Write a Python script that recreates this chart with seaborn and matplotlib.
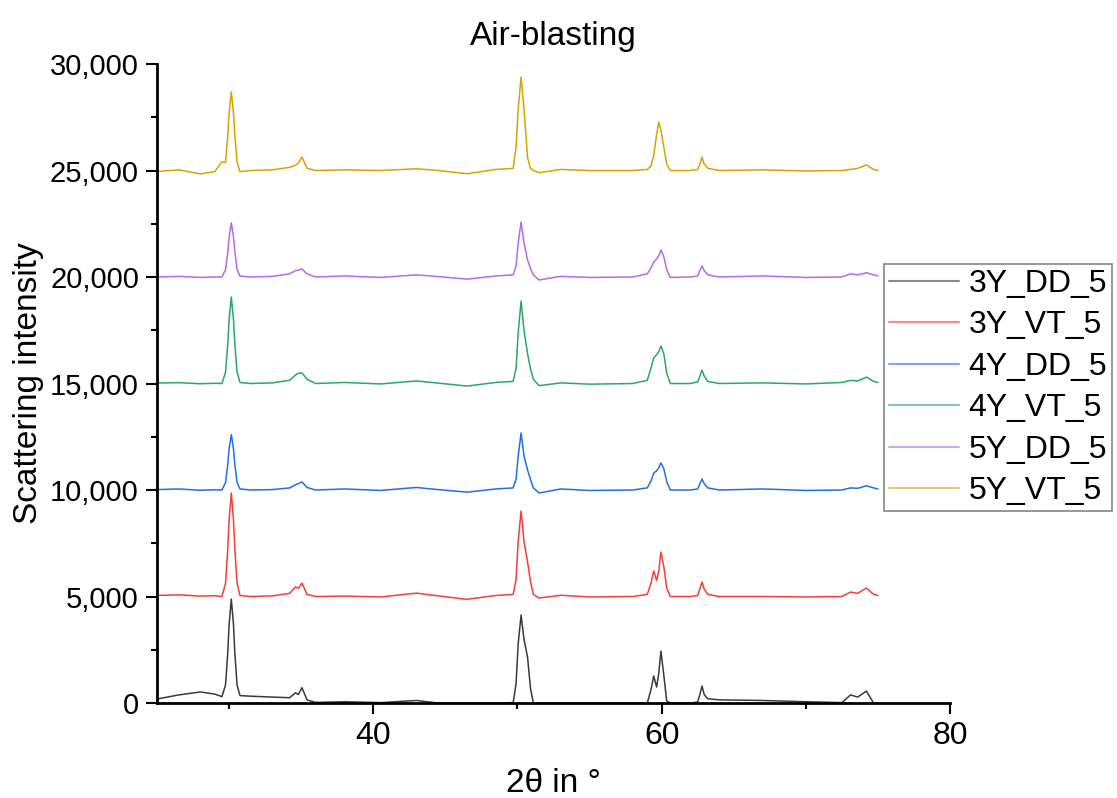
import matplotlib
matplotlib.use('Agg')
import matplotlib.pyplot as plt
import matplotlib.ticker as mticker
import seaborn as sns
import pandas as pd

# 2theta positions (deg) of the points
two_theta = [25.0, 26.5, 28.0, 29.0, 29.5, 29.75, 29.9, 30.0, 30.15, 30.3,
             30.4, 30.55, 30.75, 31.5, 33.0, 34.2, 34.6, 34.8, 35.05, 35.4,
             36.0, 38.0, 40.5, 43.0, 44.5, 46.5, 48.5, 49.7, 49.9, 50.05,
             50.25, 50.45, 50.7, 50.9, 51.1, 51.5, 53.0, 55.0, 58.0, 59.0,
             59.25, 59.45, 59.65, 59.8, 59.95, 60.15, 60.35, 60.6, 62.0, 62.5,
             62.65, 62.8, 62.95, 63.2, 64.0, 67.0, 70.0, 72.5, 73.1, 73.6,
             74.2, 74.7, 75.0]

# stacked intensities (already shifted by 5000 per sample)
y_3y_dd = [190, 380, 520, 420, 300, 850, 2300, 3700, 4880, 3700,
           2300, 850, 350, 320, 280, 250, 480, 400, 720, 150,
           30, 60, 20, 120, 0, 0, 0, 20, 900, 2800,
           4130, 3000, 2150, 700, 0, 0, 0, 0, 0, 0,
           600, 1270, 750, 1400, 2440, 1300, 100, 0, 0, 50,
           400, 800, 400, 200, 150, 120, 60, 20, 380, 280,
           560, 0, 0]
y_3y_vt = [5050, 5080, 5020, 5040, 5000, 5630, 7170, 8610, 9860, 8610,
           7170, 5630, 5050, 5000, 5030, 5150, 5450, 5380, 5630, 5100,
           5000, 5020, 4980, 5160, 5030, 4870, 5050, 5100, 5800, 7600,
           9010, 7600, 6620, 5700, 5100, 4930, 5060, 4980, 5000, 5100,
           5600, 6200, 5750, 6200, 7090, 6400, 5400, 5000, 5000, 5050,
           5350, 5680, 5350, 5100, 5000, 5000, 4980, 5000, 5210, 5150,
           5400, 5100, 5050]
y_4y_dd = [10020, 10050, 9990, 10010, 10000, 10350, 11170, 11940, 12600, 11940,
           11170, 10350, 10050, 10000, 10020, 10100, 10250, 10300, 10380, 10120,
           10000, 10050, 9980, 10120, 10020, 9900, 10050, 10100, 10500, 11600,
           12680, 11600, 10940, 10500, 10100, 9860, 10050, 9980, 10000, 10100,
           10400, 10800, 10900, 11050, 11270, 11000, 10400, 10000, 10000, 10050,
           10300, 10520, 10300, 10100, 10000, 10050, 9980, 10000, 10100, 10080,
           10200, 10100, 10050]
y_4y_vt = [15020, 15040, 14990, 15010, 15000, 15530, 16810, 18020, 19060, 18020,
           16810, 15530, 15050, 15000, 15030, 15150, 15400, 15480, 15500, 15200,
           15000, 15050, 14980, 15120, 15020, 14880, 15050, 15100, 15700, 17400,
           18870, 17500, 16400, 15700, 15200, 14900, 15030, 14970, 15000, 15150,
           15700, 16200, 16350, 16500, 16760, 16400, 15500, 15000, 15000, 15080,
           15350, 15630, 15350, 15100, 15000, 15030, 14980, 15050, 15150, 15120,
           15300, 15100, 15050]
y_5y_dd = [20000, 20030, 19980, 20000, 20000, 20350, 21150, 21890, 22540, 21890,
           21150, 20350, 20050, 20000, 20030, 20150, 20300, 20320, 20380, 20150,
           20000, 20050, 19980, 20100, 20020, 19900, 20050, 20100, 20500, 21600,
           22580, 21600, 20800, 20400, 20100, 19860, 20030, 19980, 20000, 20150,
           20400, 20700, 20850, 21000, 21270, 20950, 20350, 19980, 20000, 20050,
           20300, 20520, 20300, 20100, 20000, 20050, 19980, 20000, 20150, 20100,
           20200, 20100, 20050]
y_5y_vt = [24950, 25030, 24840, 24950, 25400, 25380, 26600, 27700, 28690, 27700,
           26600, 25400, 24950, 25000, 25030, 25150, 25250, 25350, 25630, 25100,
           25000, 25030, 25000, 25080, 25000, 24850, 25050, 25100, 26100, 27900,
           29390, 27900, 25600, 25100, 25000, 24900, 25050, 25000, 25000, 25050,
           25200, 25700, 26700, 27280, 26900, 26100, 25300, 25000, 25000, 25050,
           25300, 25630, 25300, 25100, 25000, 25030, 24980, 25000, 25050, 25100,
           25260, 25050, 25000]

samples = ['3Y_DD_5', '3Y_VT_5', '4Y_DD_5', '4Y_VT_5', '5Y_DD_5', '5Y_VT_5']
colors = ['#3a3a3a', '#f83c3c', '#1f6fe8', '#2aa86a', '#b56aea', '#d9a300']
series = [y_3y_dd, y_3y_vt, y_4y_dd, y_4y_vt, y_5y_dd, y_5y_vt]

df = pd.concat([pd.DataFrame({'two_theta': two_theta, 'intensity': ys, 'sample': name})
                for name, ys in zip(samples, series)], ignore_index=True)

sns.set_style('ticks', {'text.color': 'black', 'axes.labelcolor': 'black',
                        'xtick.color': 'black', 'ytick.color': 'black'})
plt.rcParams['font.family'] = ['Liberation Sans', 'DejaVu Sans']

fig = plt.figure(figsize=(11.17, 7.98), dpi=100)
ax = fig.add_axes([0.1406, 0.119, 0.7099, 0.8008])

sns.lineplot(data=df, x='two_theta', y='intensity', hue='sample', hue_order=samples,
             palette=dict(zip(samples, colors)), estimator=None, sort=False,
             linewidth=1.1, ax=ax, legend=True)

ax.set_xlim(25, 80)
ax.set_ylim(0, 30000)
ax.xaxis.set_major_locator(mticker.FixedLocator([40, 60, 80]))
ax.xaxis.set_minor_locator(mticker.FixedLocator([30, 50, 70]))
ax.yaxis.set_major_locator(mticker.MultipleLocator(5000))
ax.yaxis.set_minor_locator(mticker.MultipleLocator(2500))
ax.yaxis.set_major_formatter(mticker.StrMethodFormatter('{x:,.0f}'))

for side in ['top', 'right']:
    ax.spines[side].set_visible(False)
for side in ['left', 'bottom']:
    ax.spines[side].set_linewidth(2)
    ax.spines[side].set_color('black')
ax.tick_params(which='major', direction='out', length=8, width=1.5, colors='black')
ax.tick_params(which='minor', direction='out', length=4, width=1.5, colors='black')
ax.tick_params(axis='y', which='major', labelsize=21, pad=5)
ax.tick_params(axis='x', which='major', labelsize=23, pad=5)

ax.set_xlabel('2θ in °', fontsize=24, labelpad=12)
ax.set_ylabel('Scattering intensity', fontsize=24, labelpad=4)
ax.set_title('Air-blasting', fontsize=24, pad=14)

leg = ax.legend(loc='upper left', bbox_to_anchor=(884 / 1117, 1 - 264 / 798),
                bbox_transform=fig.transFigure, fontsize=23, frameon=True, fancybox=False,
                borderpad=0.15, labelspacing=0.36, handlelength=2.2, handletextpad=0.3,
                borderaxespad=0)
leg.get_frame().set_edgecolor('#666666')
leg.get_frame().set_linewidth(1.2)
for line in leg.get_lines():
    line.set_alpha(0.6)
    line.set_linewidth(1.5)

fig.savefig('out.png', dpi=100)
